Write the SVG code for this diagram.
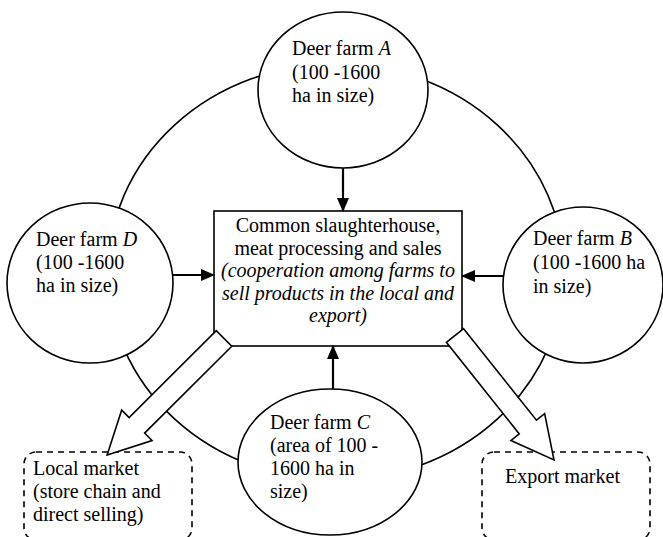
<svg xmlns="http://www.w3.org/2000/svg" width="663" height="537" viewBox="0 0 663 537">
<defs>
<style>
.shape{fill:#fff;stroke:#000;stroke-width:1.6}
.ring{fill:none;stroke:#000;stroke-width:1.6}
.dash{fill:none;stroke:#000;stroke-width:1.6;stroke-dasharray:6 5}
.t{font-family:"Liberation Serif","Times New Roman",serif;font-size:20px;fill:#000}
.c{text-anchor:middle}
.i{font-style:italic}
.arr{stroke:#000;stroke-width:2.2;fill:none}
.blk{fill:#fff;stroke:#000;stroke-width:1.6;stroke-linejoin:miter}
</style>
<marker id="ah" viewBox="0 0 14 12" refX="13" refY="6" markerWidth="14" markerHeight="12" markerUnits="userSpaceOnUse" orient="auto">
<path d="M0,0 L14,6 L0,12 z" fill="#000"/>
</marker>
</defs>
<rect width="663" height="537" fill="#fff"/>
<g id="ring">
<ellipse class="ring" cx="336" cy="272" rx="228" ry="208"/>
</g>
<g id="farmA">
<ellipse class="shape" cx="343" cy="90" rx="85" ry="78"/>
<text class="t" x="292" y="55">Deer farm <tspan class="i">A</tspan></text>
<text class="t" x="292" y="79">(100 -1600</text>
<text class="t" x="292" y="102">ha in size)</text>
</g>
<g id="farmD">
<ellipse class="shape" cx="90" cy="283" rx="83" ry="80"/>
<text class="t" x="36" y="246">Deer farm <tspan class="i">D</tspan></text>
<text class="t" x="36" y="269">(100 -1600</text>
<text class="t" x="36" y="292">ha in size)</text>
</g>
<g id="farmB">
<ellipse class="shape" cx="583" cy="285" rx="80" ry="78"/>
<text class="t" x="533" y="245">Deer farm <tspan class="i">B</tspan></text>
<text class="t" x="533" y="269">(100 -1600 ha</text>
<text class="t" x="533" y="293">in size)</text>
</g>
<g id="farmC">
<ellipse class="shape" cx="330" cy="462" rx="92" ry="73"/>
<text class="t" x="270" y="429">Deer farm <tspan class="i">C</tspan></text>
<text class="t" x="270" y="452">(area of 100 -</text>
<text class="t" x="270" y="475">1600 ha in</text>
<text class="t" x="270" y="498">size)</text>
</g>
<g id="center">
<rect class="shape" x="214" y="211" width="248" height="135"/>
<text class="t c" x="338" y="232">Common slaughterhouse,</text>
<text class="t c" x="338" y="255">meat processing and sales</text>
<text class="t c i" x="338" y="277">(cooperation among farms to</text>
<text class="t c i" x="338" y="300">sell products in the local and</text>
<text class="t c i" x="338" y="322">export)</text>
</g>
<g id="localMarket">
<rect class="dash" x="24" y="452" width="168" height="88" rx="12" ry="12"/>
<text class="t" x="33" y="475">Local market</text>
<text class="t" x="33" y="498">(store chain and</text>
<text class="t" x="33" y="521">direct selling)</text>
</g>
<g id="exportMarket">
<rect class="dash" x="482" y="452" width="168" height="88" rx="12" ry="12"/>
<text class="t" x="505" y="483">Export market</text>
</g>
<g id="connectors">
<line class="arr" x1="343" y1="168" x2="343" y2="211" marker-end="url(#ah)"/>
<line class="arr" x1="173" y1="275" x2="214" y2="275" marker-end="url(#ah)"/>
<line class="arr" x1="503" y1="276" x2="462" y2="276" marker-end="url(#ah)"/>
<line class="arr" x1="333" y1="389" x2="333" y2="346" marker-end="url(#ah)"/>
<polygon class="blk" transform="translate(224,338.5) rotate(135.1)" points="0,-11 123,-11 123,-21.5 165,0 123,21.5 123,11 0,11"/>
<polygon class="blk" transform="translate(455,335.5) rotate(51.5)" points="0,-11 117,-11 117,-21.5 159,0 117,21.5 117,11 0,11"/>
</g>
</svg>
